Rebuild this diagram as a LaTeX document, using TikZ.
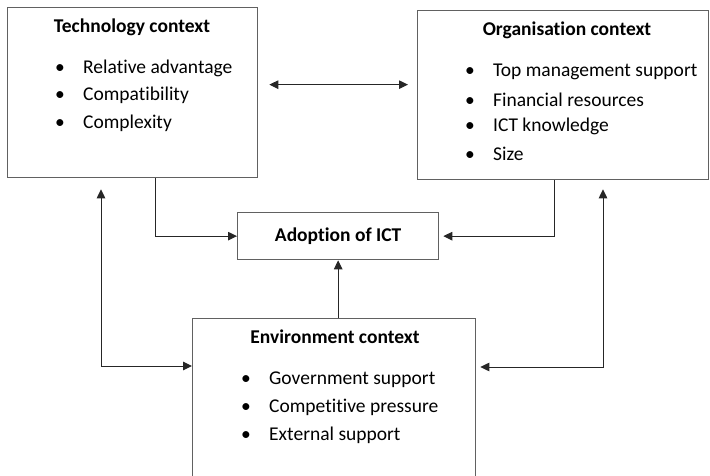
\documentclass[tikz,border=0pt]{standalone}
\usepackage{fontspec}
\setmainfont{Carlito}[Ligatures={NoCommon}]
\usetikzlibrary{arrows.meta,calc}

\newcommand{\blt}{\llap{\makebox[28pt][l]{\textbullet}}}

\begin{document}
\begin{tikzpicture}[x=1pt, y=-1pt, >={Triangle[length=9pt,width=8.5pt]},
  box/.style = {draw=black!62, line width=1.3pt, anchor=north west, inner sep=0pt},
  title/.style = {font=\fontsize{19.5}{23}\selectfont\bfseries},
  item/.style = {font=\fontsize{19.5}{23}\selectfont, anchor=west, inner sep=0pt},
  link/.style = {draw=black!85, line width=1pt}]
  \useasboundingbox (0,0) rectangle (710,476);
  \clip (0,0) rectangle (710,476);

  % the four boxes
  \node[box, minimum width=250pt, minimum height=170pt] (tech) at (7,7) {};
  \node[box, minimum width=291pt, minimum height=169pt] (org) at (417,10) {};
  \node[box, minimum width=201pt, minimum height=47pt, title] (adopt) at (237,212) {Adoption of ICT};
  \node[box, minimum width=283pt, minimum height=200pt] (env) at (192,318) {};

  % headings
  \node[title] (techtitle) at (132,27) {Technology context};
  \node[title] (orgtitle) at (567,30) {Organisation context};
  \node[title] (envtitle) at (335,337) {Environment context};

  % bullet lists
  \foreach \t [count=\i] in {Relative advantage, Compatibility, Complexity}
    \node[item] (tech-\i) at (83, 68+27.5*\i-27.5) {\blt\t};
  \foreach \t [count=\i] in {Top management support, Financial resources, ICT knowledge, Size}
    \node[item] (org-\i) at (493, 72+27.4*\i-27.4) {\blt\t};
  \foreach \t [count=\i] in {Government support, Competitive pressure, External support}
    \node[item] (env-\i) at (269, 380+27.5*\i-27.5) {\blt\t};

  % connectors
  \coordinate (lb) at (101,366);
  \coordinate (rb) at (603,367);
  \draw[link, <->] ($(tech.east)+(11,-8)$) -- ($(org.west |- tech.east)+(-9,-8)$);
  \draw[link, ->] ([xshift=23pt]tech.south) |- (adopt.west);
  \draw[link, ->] ([xshift=-8.5pt]org.south) |- ($(adopt.east)+(4,0)$);
  \draw[link, ->] (adopt.south |- env.north) -- (adopt.south);
  \draw[link, <->] ($(tech.south -| lb)+(0,11)$) |- (env.west |- lb);
  \draw[link, <->] ($(org.south -| rb)+(0,9)$) |- ($(env.east |- rb)+(4,0)$);
\end{tikzpicture}
\end{document}
